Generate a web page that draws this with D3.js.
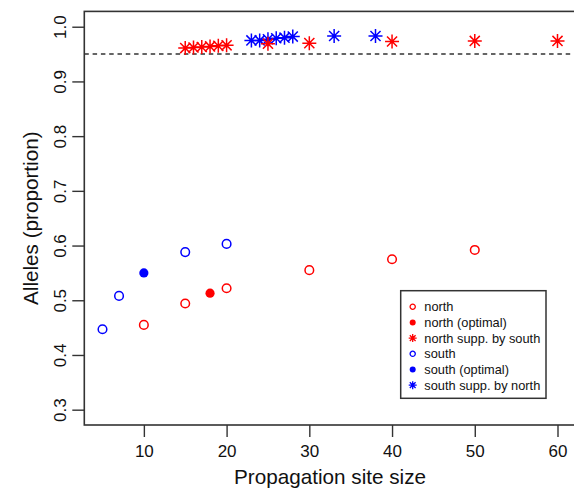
<!DOCTYPE html>
<html>
<head>
<meta charset="utf-8">
<script src="https://cdn.jsdelivr.net/npm/d3@7"></script>
<style>
body { margin: 0; background: #fff; }
text { font-family: "Liberation Sans", Arial, sans-serif; }
</style>
</head>
<body>
<div id="chart"></div>
<script>
// values
var northX = [10, 15, 20, 30, 40, 50];
var northY = [0.455, 0.494, 0.522, 0.555, 0.575, 0.592];
var northOptX = [18];
var northOptY = [0.513];
var northSuppX = [15, 16, 17, 18, 19, 20, 25, 30, 40, 50, 60];
var northSuppY = [0.961, 0.962, 0.963, 0.964, 0.965, 0.966, 0.969, 0.970, 0.973, 0.974, 0.974];
var southX = [5, 7, 15, 20];
var southY = [0.447, 0.508, 0.588, 0.603];
var southOptX = [10];
var southOptY = [0.550];
var southSuppX = [23, 24, 25, 26, 27, 28, 33, 38];
var southSuppY = [0.975, 0.975, 0.977, 0.979, 0.980, 0.982, 0.983, 0.983];

var xTicks = [10, 20, 30, 40, 50, 60];
var yTicks = [0.3, 0.4, 0.5, 0.6, 0.7, 0.8, 0.9, 1.0];
var threshold = 0.95;

var legendLabels = ["north", "north (optimal)", "north supp. by south",
                    "south", "south (optimal)", "south supp. by north"];
var legendColors = ["red", "red", "red", "blue", "blue", "blue"];
var legendKinds = ["open", "filled", "star", "open", "filled", "star"];

var width = 574, height = 488;

var svg = d3.select("#chart").append("svg")
    .attr("width", width)
    .attr("height", height);

// R style: 4% expansion around xlim 5..60 and ylim 0.3..1
var x = d3.scaleLinear().domain([2.8, 62.2]).range([84.3, 575.7]);
var y = d3.scaleLinear().domain([0.272, 1.028]).range([425, 11.4]);

var ink = "#333";

// box
svg.append("rect")
    .attr("x", x(2.8)).attr("y", y(1.028))
    .attr("width", x(62.2) - x(2.8)).attr("height", y(0.272) - y(1.028))
    .attr("fill", "none").attr("stroke", ink).attr("stroke-width", 1.6);

// x axis
var xAxis = d3.axisBottom(x).tickValues(xTicks).tickSize(12).tickPadding(5)
    .tickFormat(d3.format("d"));
var gx = svg.append("g").attr("transform", "translate(0," + y(0.272) + ")").call(xAxis);
gx.select(".domain").remove();
gx.selectAll(".tick line").attr("stroke", ink).attr("stroke-width", 1.4);
gx.selectAll(".tick text").attr("font-size", 17).attr("fill", "#111")
    .attr("dy", null).attr("y", 32);

// y axis
var yAxis = d3.axisLeft(y).tickValues(yTicks).tickSize(12)
    .tickFormat(d3.format(".1f"));
var gy = svg.append("g").attr("transform", "translate(" + x(2.8) + ",0)").call(yAxis);
gy.select(".domain").remove();
gy.selectAll(".tick line").attr("stroke", ink).attr("stroke-width", 1.4);
gy.selectAll(".tick text").attr("font-size", 17).attr("fill", "#111")
    .attr("x", null).attr("dy", null)
    .attr("text-anchor", "middle")
    .attr("transform", "translate(-18,0) rotate(-90)");

// axis titles
svg.append("text")
    .attr("x", (x(2.8) + x(62.2)) / 2).attr("y", 483.5)
    .attr("text-anchor", "middle").attr("font-size", 20.7).attr("fill", "#111")
    .text("Propagation site size");

svg.append("text")
    .attr("transform", "translate(38," + (y(0.272) + y(1.028)) / 2 + ") rotate(-90)")
    .attr("text-anchor", "middle").attr("font-size", 20.7).attr("fill", "#111")
    .text("Alleles (proportion)");

// threshold line
svg.append("line")
    .attr("x1", x(2.8)).attr("x2", x(62.2))
    .attr("y1", y(threshold)).attr("y2", y(threshold))
    .attr("stroke", ink).attr("stroke-width", 1.5)
    .attr("stroke-dasharray", "4.5,3.8");

function zip(xs, ys) { return xs.map(function(v, i) { return [v, ys[i]]; }); }

function starPath(r) {
    var d = r * 0.72;
    return "M" + (-r) + ",0H" + r + "M0," + (-r) + "V" + r +
        "M" + (-d) + "," + (-d) + "L" + d + "," + d +
        "M" + (-d) + "," + d + "L" + d + "," + (-d);
}

function drawOpen(data, color) {
    svg.append("g").selectAll("circle").data(data).enter().append("circle")
        .attr("cx", function(d) { return x(d[0]); })
        .attr("cy", function(d) { return y(d[1]); })
        .attr("r", 4.3).attr("fill", "none")
        .attr("stroke", color).attr("stroke-width", 1.5);
}
function drawFilled(data, color) {
    svg.append("g").selectAll("circle").data(data).enter().append("circle")
        .attr("cx", function(d) { return x(d[0]); })
        .attr("cy", function(d) { return y(d[1]); })
        .attr("r", 4.6).attr("fill", color);
}
function drawStars(data, color) {
    svg.append("g").selectAll("path").data(data).enter().append("path")
        .attr("transform", function(d) { return "translate(" + x(d[0]) + "," + y(d[1]) + ")"; })
        .attr("d", starPath(7))
        .attr("fill", "none").attr("stroke", color).attr("stroke-width", 1.5);
}

drawOpen(zip(northX, northY), "red");
drawFilled(zip(northOptX, northOptY), "red");
drawOpen(zip(southX, southY), "blue");
drawFilled(zip(southOptX, southOptY), "blue");
drawStars(zip(southSuppX, southSuppY), "blue");
drawStars(zip(northSuppX, northSuppY), "red");

// legend
var lg = svg.append("g");
lg.append("rect")
    .attr("x", 400.7).attr("y", 290.7).attr("width", 145.3).attr("height", 107.6)
    .attr("fill", "#fff").attr("stroke", ink).attr("stroke-width", 1.5);

var row = lg.selectAll("g.row").data(legendLabels).enter().append("g")
    .attr("class", "row")
    .attr("transform", function(d, i) { return "translate(412.7," + (306.7 + i * 15.7) + ")"; });

row.each(function(d, i) {
    var g = d3.select(this);
    var c = legendColors[i];
    if (legendKinds[i] === "open") {
        g.append("circle").attr("r", 2.6).attr("fill", "none").attr("stroke", c).attr("stroke-width", 1.3);
    } else if (legendKinds[i] === "filled") {
        g.append("circle").attr("r", 3).attr("fill", c);
    } else {
        g.append("path").attr("d", starPath(4)).attr("fill", "none").attr("stroke", c).attr("stroke-width", 1.3);
    }
});

row.append("text")
    .attr("x", 11.6).attr("dy", "0.35em")
    .attr("font-size", 12.8).attr("fill", "#111")
    .text(function(d) { return d; });
</script>
</body>
</html>
